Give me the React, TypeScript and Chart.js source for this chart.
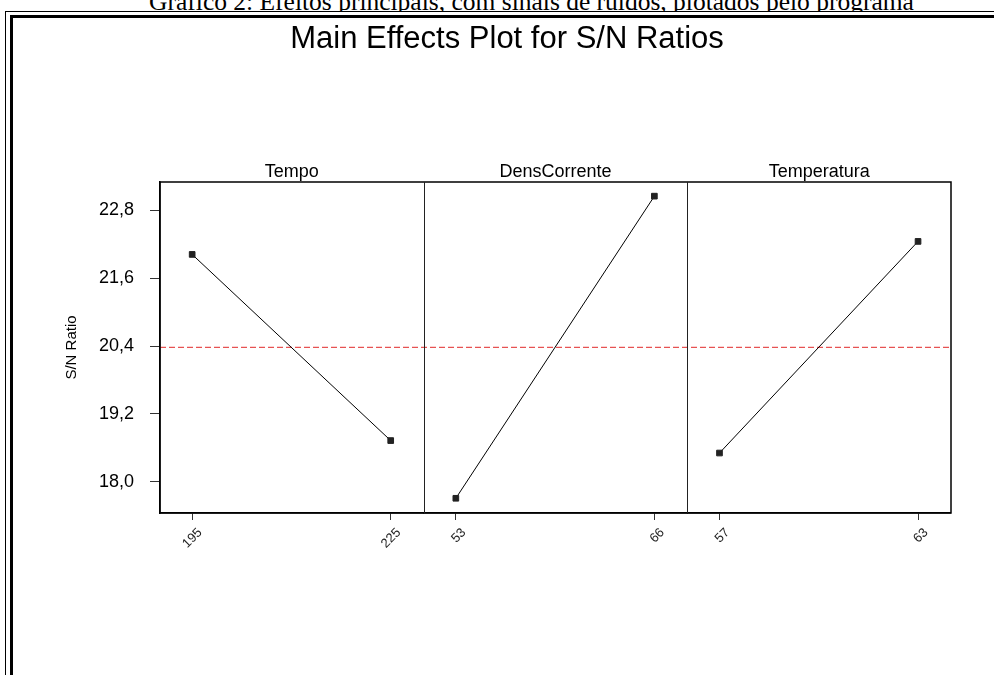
import React, { useEffect, useRef } from 'react';
import { Chart, registerables } from 'chart.js';

Chart.register(...registerables);

// ---- data ----
const caption = 'Gráfico 2: Efeitos principais, com sinais de ruídos, plotados pelo programa';
const chartTitle = 'Main Effects Plot for S/N Ratios';
const yAxisTitle = 'S/N Ratio';
const factorNames = ['Tempo', 'DensCorrente', 'Temperatura'];
const tempoLevels = ['195', '225'];
const densLevels = ['53', '66'];
const temperaturaLevels = ['57', '63'];
const tempoSN = [22.02, 18.73];
const densSN = [17.71, 23.05];
const temperaturaSN = [18.51, 22.25];
const yTicks = [18.0, 19.2, 20.4, 21.6, 22.8];
const yTickLabels = ['18,0', '19,2', '20,4', '21,6', '22,8'];
const yMin = 17.45;
const yMax = 23.3;

const panelLevels = [tempoLevels, densLevels, temperaturaLevels];
const panelValues = [tempoSN, densSN, temperaturaSN];
const allValues = [...tempoSN, ...densSN, ...temperaturaSN];
const grandMean = allValues.reduce((a, b) => a + b, 0) / allValues.length;

const FONT = "'Liberation Sans', Arial, Helvetica, sans-serif";

const panelPlugin = {
  id: 'panelPlugin',
  beforeDatasetsDraw(chart: any) {
    const { ctx, chartArea } = chart;
    const y = chart.scales.y.getPixelForValue(grandMean);
    ctx.save();
    ctx.strokeStyle = 'rgb(225,40,40)';
    ctx.lineWidth = 1;
    ctx.setLineDash([6, 3]);
    ctx.beginPath();
    ctx.moveTo(chartArea.left, y);
    ctx.lineTo(chartArea.right, y);
    ctx.stroke();
    ctx.restore();
  },
  afterDraw(chart: any) {
    const { ctx, chartArea } = chart;
    ctx.save();
    ctx.strokeStyle = '#000';
    ctx.lineWidth = 1.5;
    ctx.strokeRect(chartArea.left, chartArea.top, chartArea.right - chartArea.left, chartArea.bottom - chartArea.top);
    ctx.lineWidth = 1;
    ctx.strokeStyle = '#222';
    for (let i = 1; i < factorNames.length; i++) {
      const s = chart.scales['x' + i];
      ctx.beginPath();
      ctx.moveTo(Math.round(s.left) + 0.5, chartArea.top);
      ctx.lineTo(Math.round(s.left) + 0.5, chartArea.bottom);
      ctx.stroke();
    }
    ctx.fillStyle = '#000';
    ctx.font = `18px ${FONT}`;
    ctx.textAlign = 'center';
    ctx.textBaseline = 'alphabetic';
    for (let i = 0; i < factorNames.length; i++) {
      const s = chart.scales['x' + i];
      ctx.fillText(factorNames[i], (s.left + s.right) / 2, chartArea.top - 5);
    }
    ctx.restore();
  },
};

export default function App() {
  const canvasRef = useRef<HTMLCanvasElement | null>(null);

  useEffect(() => {
    if (!canvasRef.current) return;
    const datasets = panelValues.map((vals, i) => ({
      label: factorNames[i],
      xAxisID: 'x' + i,
      yAxisID: 'y',
      data: vals.map((v, j) => ({ x: j + 1, y: v })),
      borderColor: '#000',
      borderWidth: 1,
      pointStyle: 'rect',
      pointRadius: 4,
      pointBackgroundColor: '#222',
      pointBorderColor: '#222',
      pointBorderWidth: 1,
      showLine: true,
      fill: false,
    }));

    const scales: any = {
      y: {
        type: 'linear',
        position: 'left',
        min: yMin,
        max: yMax,
        afterBuildTicks: (s: any) => {
          s.ticks = yTicks.map((v) => ({ value: v }));
        },
        afterFit: (s: any) => {
          s.width = 97;
        },
        ticks: {
          callback: (_v: any, idx: number) => yTickLabels[idx],
          font: { family: FONT, size: 18 },
          color: '#000',
          padding: 16,
        },
        grid: { drawOnChartArea: false, drawTicks: true, tickLength: 10, color: '#333' },
        border: { display: true, color: '#000', width: 1.5 },
        title: {
          display: true,
          text: yAxisTitle,
          font: { family: FONT, size: 15 },
          color: '#000',
          padding: { top: 0, bottom: 0 },
        },
      },
    };
    panelLevels.forEach((levels, i) => {
      scales['x' + i] = {
        type: 'linear',
        position: 'bottom',
        stack: 'panels',
        stackWeight: 1,
        min: 0.838,
        max: 2.166,
        afterBuildTicks: (s: any) => {
          s.ticks = levels.map((_l, j) => ({ value: j + 1 }));
        },
        afterFit: (s: any) => {
          s.height = 60;
        },
        ticks: {
          autoSkip: false,
          minRotation: 45,
          maxRotation: 45,
          callback: (_v: any, idx: number) => levels[idx],
          font: { family: FONT, size: 13 },
          color: '#222',
          padding: 5,
          labelOffset: 8,
        },
        grid: { drawOnChartArea: false, drawTicks: true, tickLength: 7, color: '#333' },
        border: { display: true, color: '#000', width: 1.5 },
      };
    });

    const chart = new Chart(canvasRef.current, {
      type: 'scatter',
      data: { datasets: datasets as any },
      options: {
        animation: false,
        responsive: true,
        maintainAspectRatio: false,
        layout: { padding: { top: 0, left: 63, right: 43, bottom: 102 } },
        scales,
        plugins: {
          legend: { display: false },
          tooltip: { enabled: false },
          title: {
            display: true,
            text: chartTitle,
            color: '#000',
            font: { family: FONT, size: 31, weight: 'normal' as any },
            padding: { top: 21, bottom: 123.8 },
          },
        },
      } as any,
      plugins: [panelPlugin],
    });
    return () => chart.destroy();
  }, []);

  return (
    <div style={{ position: 'fixed', left: 0, top: 0, width: 994, height: 675, overflow: 'hidden', background: '#fff' }}>
      <div style={{ position: 'absolute', left: 0, top: 0, width: 994, height: 11, overflow: 'hidden' }}>
        <div
          style={{
            position: 'absolute',
            left: 31.5,
            top: -11.4,
            width: 1000,
            textAlign: 'center',
            whiteSpace: 'nowrap',
            fontFamily: "'Liberation Serif', 'Times New Roman', serif",
            fontSize: 25.5,
            lineHeight: 1,
            color: '#000',
          }}
        >
          {caption}
        </div>
      </div>
      <div style={{ position: 'absolute', left: 5, top: 11, width: 1000, height: 700, borderTop: '1px solid #000', borderLeft: '1px solid #000' }} />
      <div style={{ position: 'absolute', left: 10, top: 15, width: 1000, height: 700, borderTop: '3px solid #000', borderLeft: '3px solid #000' }} />
      <div style={{ position: 'absolute', left: 0, top: 0, width: 994, height: 675 }}>
        <canvas ref={canvasRef} />
      </div>
    </div>
  );
}
